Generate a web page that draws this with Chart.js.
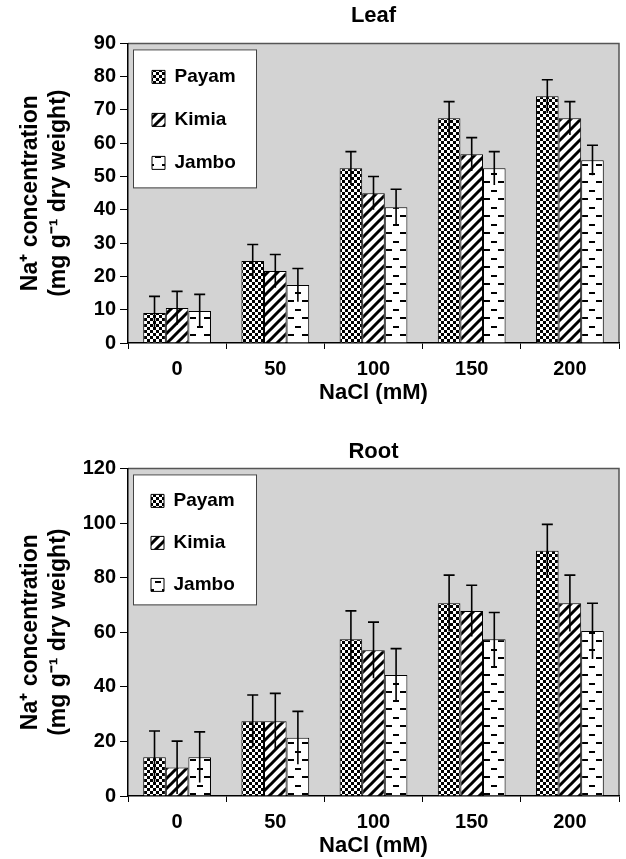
<!DOCTYPE html>
<html>
<head>
<meta charset="utf-8">
<script src="https://cdn.jsdelivr.net/npm/chart.js@4.4.1/dist/chart.umd.min.js"></script>
<style>
  body { margin: 0; background: #fff; }
  canvas { display: block; }
</style>
</head>
<body>
<canvas id="leafChart" width="626" height="425"></canvas>
<canvas id="rootChart" width="626" height="434"></canvas>
<script>
// NaCl levels
const categories = ["0", "50", "100", "150", "200"];
const cultivars = ["Payam", "Kimia", "Jambo"];

// Leaf Na+ (mg g-1 dry weight) and error
const leafPayam = [9, 24.6, 52.5, 67.5, 74.1];
const leafKimia = [10.5, 21.6, 45, 56.7, 67.5];
const leafJambo = [9.6, 17.4, 40.8, 52.5, 54.9];
const leafPayamErr = [5, 5, 5, 5, 5];
const leafKimiaErr = [5, 5, 5, 5, 5];
const leafJamboErr = [5, 5, 5.4, 5, 4.5];

// Root Na+ (mg g-1 dry weight) and error
const rootPayam = [14.2, 27.4, 57.4, 70.6, 89.8];
const rootKimia = [10.4, 27.4, 53.4, 67.8, 70.6];
const rootJambo = [14.2, 21.3, 44.3, 57.4, 60.4];
const rootPayamErr = [9.6, 9.6, 10.4, 10.3, 9.7];
const rootKimiaErr = [9.7, 10.2, 10.3, 9.4, 10.3];
const rootJamboErr = [9.3, 9.7, 9.7, 9.8, 10.2];

const FONT = "'Liberation Sans', Arial, Helvetica, sans-serif";

// fill patterns
function tile(w, h, draw) {
    const c = document.createElement("canvas");
    c.width = w; c.height = h;
    const g = c.getContext("2d");
    g.fillStyle = "#fff";
    g.fillRect(0, 0, w, h);
    g.fillStyle = "#000";
    g.strokeStyle = "#000";
    draw(g);
    return g.createPattern(c, "repeat");
}
const checker = tile(6, 6, g => {
    g.fillRect(0, 0, 3, 3);
    g.fillRect(3, 3, 3, 3);
});
const stripes = tile(10, 10, g => {
    g.lineWidth = 3;
    g.beginPath();
    g.moveTo(-1, 11); g.lineTo(11, -1);
    g.moveTo(-6, 6); g.lineTo(6, -6);
    g.moveTo(4, 16); g.lineTo(16, 4);
    g.stroke();
});
const dashes = tile(14, 17, g => {
    g.fillRect(1, 3, 6, 2);
    g.fillRect(8, 11, 6, 2);
});
const fills = [checker, stripes, dashes];

// gray plot area + white legend box
const plotBackground = {
    id: "plotBackground",
    afterUpdate(chart) {
        // vertical legend inside the chart area starts at top 0, move it down
        const lg = chart.legend;
        const dy = chart.chartArea.top - lg.top;
        if (dy) {
            lg.top += dy;
            lg.bottom += dy;
            lg.legendHitBoxes.forEach(h => { h.top += dy; });
        }
    },
    beforeDraw(chart, args, opts) {
        const {ctx, chartArea: a} = chart;
        ctx.save();
        ctx.fillStyle = "#fff";
        ctx.fillRect(0, 0, chart.width, chart.height);
        ctx.fillStyle = "#d3d3d3";
        ctx.fillRect(a.left, a.top, a.right - a.left, a.bottom - a.top);
        ctx.strokeStyle = "#555";
        ctx.lineWidth = 1.5;
        ctx.beginPath();
        ctx.moveTo(a.left, a.top);
        ctx.lineTo(a.right, a.top);
        ctx.lineTo(a.right, a.bottom);
        ctx.stroke();
        const boxes = chart.legend.legendHitBoxes;
        if (boxes && boxes.length) {
            const last = boxes[boxes.length - 1];
            const x = a.left + 5, y = a.top + 6;
            const h = last.top + last.height + opts.extra - y;
            ctx.fillStyle = "#fff";
            ctx.fillRect(x, y, 123, h);
            ctx.strokeStyle = "#444";
            ctx.lineWidth = 1;
            ctx.strokeRect(x + 0.5, y + 0.5, 123, h);
        }
        ctx.restore();
    }
};

// error bars from the dataset "errors" arrays
const errorBars = {
    id: "errorBars",
    afterDatasetsDraw(chart) {
        const ctx = chart.ctx;
        const y = chart.scales.y;
        ctx.save();
        ctx.strokeStyle = "#000";
        ctx.lineWidth = 1.6;
        chart.data.datasets.forEach((ds, di) => {
            chart.getDatasetMeta(di).data.forEach((bar, i) => {
                const top = y.getPixelForValue(ds.data[i] + ds.errors[i]);
                const bot = y.getPixelForValue(ds.data[i] - ds.errors[i]);
                ctx.beginPath();
                ctx.moveTo(bar.x, bot);
                ctx.lineTo(bar.x, top);
                ctx.moveTo(bar.x - 5.5, top);
                ctx.lineTo(bar.x + 5.5, top);
                ctx.stroke();
            });
        });
        ctx.restore();
    }
};

function makeChart(id, title, series, errs, yMax, yStep, cfg) {
    return new Chart(document.getElementById(id), {
        type: "bar",
        data: {
            labels: categories,
            datasets: cultivars.map((name, k) => ({
                label: name,
                data: series[k],
                errors: errs[k],
                backgroundColor: fills[k],
                borderColor: "#000",
                borderWidth: 1,
                categoryPercentage: 0.69,
                barPercentage: 1.0
            }))
        },
        options: {
            responsive: false,
            animation: false,
            layout: { padding: { left: 0, right: 7, top: 0, bottom: 0 } },
            plugins: {
                title: {
                    display: true,
                    text: title,
                    fullSize: false,
                    color: "#000",
                    font: { family: FONT, size: 22, weight: "bold" },
                    padding: cfg.titlePad
                },
                legend: {
                    position: "chartArea",
                    align: "start",
                    labels: {
                        color: "#000",
                        font: { family: FONT, size: 19, weight: "bold" },
                        boxWidth: 13,
                        boxHeight: 13,
                        padding: cfg.legendPad
                    }
                },
                tooltip: { enabled: false },
                plotBackground: { extra: cfg.boxExtra }
            },
            scales: {
                x: {
                    grid: { drawOnChartArea: false, tickLength: 6, color: "#000", offset: true },
                    border: { color: "#000", width: 1.5 },
                    ticks: { color: "#000", padding: 8, font: { family: FONT, size: 20, weight: "bold" } },
                    title: {
                        display: true,
                        text: "NaCl (mM)",
                        color: "#000",
                        font: { family: FONT, size: 22, weight: "bold" },
                        padding: { top: 0, bottom: cfg.xTitleBottom }
                    },
                    afterFit(scale) { scale.height = cfg.xHeight; }
                },
                y: {
                    min: 0,
                    max: yMax,
                    grid: { drawOnChartArea: false, tickLength: 8, color: "#000" },
                    border: { color: "#000", width: 1.5 },
                    ticks: { stepSize: yStep, color: "#000", padding: 4, font: { family: FONT, size: 20, weight: "bold" } },
                    title: {
                        display: true,
                        text: ["Na\u207A concentration", "(mg g\u207B\u00B9 dry weight)"],
                        color: "#000",
                        font: { family: FONT, size: 23, weight: "bold", lineHeight: 1.22 },
                        padding: { top: 17, bottom: 0 }
                    },
                    afterFit(scale) { scale.width = 128; }
                }
            }
        },
        plugins: [plotBackground, errorBars]
    });
}

makeChart("leafChart", "Leaf",
    [leafPayam, leafKimia, leafJambo],
    [leafPayamErr, leafKimiaErr, leafJamboErr],
    90, 10,
    { titlePad: { top: 3, bottom: 14 }, xHeight: 82, xTitleBottom: 19, boxExtra: 15, legendPad: 24 });

makeChart("rootChart", "Root",
    [rootPayam, rootKimia, rootJambo],
    [rootPayamErr, rootKimiaErr, rootJamboErr],
    120, 20,
    { titlePad: { top: 14, bottom: 3 }, xHeight: 63, xTitleBottom: 0, boxExtra: 10, legendPad: 23 });
</script>
</body>
</html>
